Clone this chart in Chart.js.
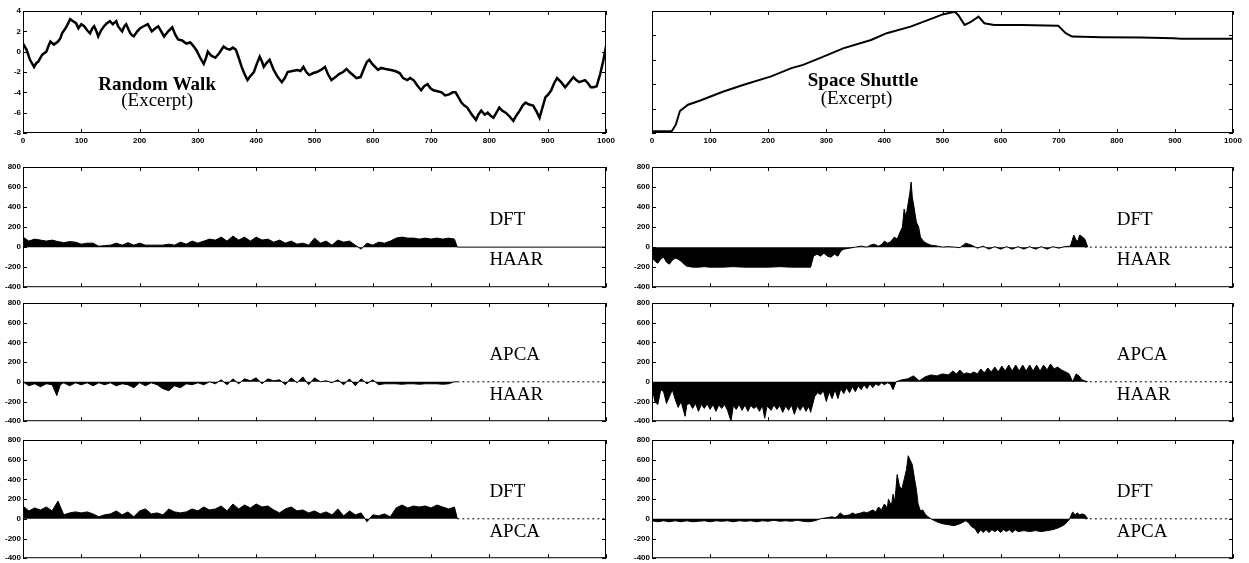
<!DOCTYPE html>
<html>
<head>
<meta charset="utf-8">
<script src="https://cdn.jsdelivr.net/npm/chart.js@4.4.0/dist/chart.umd.min.js"></script>
<style>
  html, body { margin: 0; padding: 0; background: #fff; overflow: hidden; }
  body { width: 1249px; height: 563px; position: relative; }
  canvas { position: absolute; }
</style>
</head>
<body>
<canvas id="rwTop" width="618" height="145" style="left:0px;top:0px"></canvas>
<canvas id="ssTop" width="616" height="145" style="left:629px;top:0px"></canvas>
<canvas id="rwDftHaar" width="618" height="137" style="left:0px;top:157px"></canvas>
<canvas id="ssDftHaar" width="616" height="137" style="left:629px;top:157px"></canvas>
<canvas id="rwApcaHaar" width="618" height="135" style="left:0px;top:293px"></canvas>
<canvas id="ssApcaHaar" width="616" height="135" style="left:629px;top:293px"></canvas>
<canvas id="rwDftApca" width="618" height="135" style="left:0px;top:430px"></canvas>
<canvas id="ssDftApca" width="616" height="135" style="left:629px;top:430px"></canvas>
<script>
// ---- data: [x, value] pairs ----

// top row, raw series
const randomWalk = [[0,0.8],[6,0.2],[12,-0.8],[19,-1.5],[23,-1.1],[26,-1.0],[33,-0.3],[40,0.0],[44,0.6],[47,1.0],[53,0.7],[60,1.0],[64,1.3],[67,1.8],[74,2.4],[81,3.2],[86,3.0],[91,2.8],[95,2.3],
  [100,2.7],[105,2.5],[110,2.1],[115,1.8],[119,2.3],[122,2.5],[126,2.0],[129,1.5],[134,2.1],[139,2.5],[144,2.8],[149,3.0],[154,2.7],[160,3.0],[163,2.5],[167,2.2],[170,2.0],[174,2.5],[177,2.7],
  [184,1.8],[187,1.6],[190,1.5],[196,2.0],[201,2.3],[207,2.5],[214,2.7],[218,2.3],[221,2.0],[227,2.3],[232,2.5],[237,2.0],[242,1.5],[249,2.0],[256,2.4],[261,1.7],[266,1.2],[273,1.1],[280,0.8],
  [287,0.9],[293,0.5],[298,0.1],[303,-0.5],[307,-0.9],[310,-1.2],[314,-0.6],[317,0.0],[323,-0.4],[330,-0.6],[337,-0.1],[344,0.5],[349,0.3],[355,0.2],[360,0.4],[365,0.2],[370,-0.6],[375,-1.5],[380,-2.2],[385,-2.8],
  [390,-2.4],[396,-2.0],[401,-1.2],[406,-0.5],[410,-1.0],[413,-1.5],[418,-1.1],[423,-0.8],[430,-1.8],[437,-2.5],[444,-3.0],[449,-2.6],[454,-2.0],[462,-1.9],[471,-1.8],[476,-1.9],[481,-1.5],[486,-2.0],[491,-2.3],
  [498,-2.1],[504,-2.0],[511,-1.8],[518,-1.5],[523,-2.2],[529,-2.8],[536,-2.5],[542,-2.2],[549,-2.0],[555,-1.7],[560,-2.0],[566,-2.3],[572,-2.6],[579,-2.5],[586,-1.5],[590,-1.0],[594,-0.8],[599,-1.2],[604,-1.5],[609,-1.8],[614,-1.6],
  [622,-1.7],[631,-1.8],[638,-1.9],[646,-2.1],[652,-2.6],[659,-2.8],[664,-2.6],[670,-2.8],[676,-3.3],[683,-3.8],[688,-3.4],[694,-3.2],[699,-3.6],[704,-3.8],[711,-3.9],[718,-4.0],[724,-4.3],[731,-4.2],[737,-4.0],[742,-4.0],
  [747,-4.5],[752,-5.0],[757,-5.3],[762,-5.5],[770,-6.2],[777,-6.7],[781,-6.2],[786,-5.8],[792,-6.2],[797,-6.0],[802,-6.3],[807,-6.5],[812,-6.0],[817,-5.5],[822,-5.8],[828,-6.0],[835,-6.4],[841,-6.8],[846,-6.3],[852,-5.8],
  [857,-5.3],[862,-5.0],[868,-5.2],[875,-5.3],[881,-5.9],[886,-6.5],[891,-5.5],[896,-4.5],[901,-4.2],[906,-3.8],[911,-3.1],[916,-2.6],[923,-3.0],[930,-3.5],[937,-3.0],[944,-2.5],[949,-2.8],[954,-3.0],[959,-2.9],[964,-2.8],
  [969,-3.1],[974,-3.5],[979,-3.5],[984,-3.4],[990,-2.2],[995,-1.0],[1000,0.5]];

const spaceShuttle = [[0,0.07],[34,0.07],[41,0.34],[48,0.9],[62,1.16],[82,1.32],[123,1.7],[158,1.98],[205,2.32],[240,2.66],
  [260,2.79],[295,3.13],[329,3.47],[377,3.81],[404,4.09],[445,4.36],[486,4.73],[500,4.86],[521,4.97],[527,4.84],
  [538,4.43],[548,4.54],[562,4.77],[572,4.5],[589,4.43],[637,4.43],[699,4.4],[712,4.09],[723,3.95],[774,3.92],
  [842,3.91],[897,3.88],[911,3.86],[1000,3.86]];

// random walk error differences
const rwDftHaar = [[0,100],[10,60],[20,80],[30,70],[40,60],[50,70],[60,55],[70,45],[80,55],[90,50],
  [100,30],[110,40],[120,40],[130,10],[140,15],[150,20],[160,40],[170,20],[180,45],[190,20],
  [200,40],[210,20],[220,20],[230,20],[240,20],[250,30],[260,20],[270,50],[280,30],[290,60],
  [300,40],[310,60],[320,80],[330,70],[340,100],[350,60],[360,110],[370,70],[380,100],[390,60],
  [400,100],[410,70],[420,80],[430,50],[440,70],[450,40],[460,60],[470,30],[480,40],[490,20],
  [500,90],[510,40],[520,60],[530,20],[540,70],[550,50],[560,60],[570,20],[580,-20],[590,40],
  [600,20],[610,50],[620,40],[630,60],[640,90],[650,100],[660,90],[670,90],[680,80],[690,90],
  [700,80],[710,90],[720,80],[730,90],[740,80],[745,0]];

const rwApcaHaar = [[0,0],[10,-40],[20,-20],[30,-50],[40,-20],[50,-30],[58,-140],[64,-30],[70,-10],[80,-40],[90,-10],
  [100,-30],[110,-10],[120,-40],[130,-10],[140,-30],[150,-10],[160,-40],[170,-20],[180,-30],[190,-60],
  [200,-10],[210,-40],[220,-10],[230,-30],[240,-70],[250,-90],[260,-40],[270,-60],[280,-20],[290,-30],
  [300,-10],[310,-30],[320,0],[330,-20],[340,20],[350,-30],[360,30],[370,-20],[380,30],[390,10],
  [400,40],[410,-20],[420,30],[430,10],[440,20],[450,-30],[460,40],[470,-10],[480,50],[490,-30],
  [500,40],[510,0],[520,10],[530,-10],[540,20],[550,-30],[560,30],[570,-40],[580,30],[590,-20],
  [600,20],[610,-30],[620,-20],[630,-20],[640,-20],[650,-25],[660,-20],[670,-20],[680,-25],[690,-20],
  [700,-20],[710,-20],[720,-25],[730,-20],[740,0],[745,0]];

const rwDftApca = [[0,130],[10,80],[20,110],[30,90],[40,120],[50,80],[60,180],[70,40],[80,60],[90,70],
  [100,60],[110,70],[120,50],[130,20],[140,40],[150,50],[160,80],[170,40],[180,70],[190,20],
  [200,80],[210,100],[220,50],[230,60],[240,40],[250,100],[260,70],[270,60],[280,70],[290,100],
  [300,80],[310,120],[320,90],[330,100],[340,130],[350,80],[360,150],[370,100],[380,140],[390,110],
  [400,150],[410,120],[420,130],[430,90],[440,60],[450,100],[460,120],[470,80],[480,90],[490,60],
  [500,80],[510,50],[520,70],[530,40],[540,100],[550,30],[560,80],[570,40],[580,60],[590,-30],
  [600,40],[610,30],[620,50],[630,20],[640,110],[650,140],[660,110],[670,130],[680,120],[690,130],
  [700,110],[710,140],[720,120],[730,100],[740,120],[745,0]];

// space shuttle error differences
const ssDftHaar = [[0,-100],[5,-140],[10,-160],[15,-120],[20,-100],[25,-150],[30,-170],[35,-130],[40,-110],[45,-120],
  [50,-140],[55,-170],[60,-190],[70,-200],[80,-200],[90,-195],[100,-200],[120,-200],[140,-195],[160,-200],
  [180,-200],[200,-200],[220,-195],[240,-200],[260,-200],[273,-200],[278,-90],[284,-70],[290,-90],[296,-60],
  [302,-90],[308,-100],[314,-70],[320,-90],[325,-40],[330,-20],[340,-10],[350,0],[360,10],[370,0],
  [376,20],[382,30],[390,10],[396,30],[400,60],[405,40],[410,50],[417,100],[422,80],[427,150],
  [431,200],[434,380],[437,300],[441,440],[444,550],[446,650],[448,500],[451,400],[455,250],[459,200],
  [462,100],[467,60],[472,40],[480,20],[492,10],[500,0],[510,5],[520,0],[530,-5],
  [540,40],[550,20],[560,-10],[570,10],[580,-20],[590,5],[600,-20],[610,5],[620,-20],[630,5],
  [640,-20],[650,5],[660,-20],[670,5],[680,-20],[690,5],[700,-10],[710,5],[720,10],[726,120],
  [730,70],[733,60],[736,120],[739,110],[745,80],[750,0]];

const ssApcaHaar = [[0,-50],[5,-200],[10,-230],[15,-80],[20,-100],[25,-220],[30,-150],[35,-80],[40,-180],[45,-260],
  [50,-200],[57,-350],[60,-230],[65,-220],[70,-270],[75,-220],[80,-300],[85,-230],[90,-270],[95,-225],
  [100,-280],[105,-230],[110,-300],[115,-235],[120,-270],[125,-230],[130,-290],[136,-400],[140,-240],[145,-280],
  [150,-230],[155,-290],[160,-235],[165,-300],[170,-240],[175,-270],[180,-250],[185,-300],[190,-240],[194,-370],
  [198,-245],[205,-290],[210,-235],[215,-280],[220,-240],[225,-310],[230,-245],[235,-290],[240,-235],[245,-330],
  [250,-245],[255,-290],[260,-240],[265,-300],[270,-250],[273,-310],[280,-150],[285,-110],[290,-130],[295,-90],
  [300,-200],[305,-100],[310,-170],[315,-80],[320,-170],[325,-70],[330,-120],[335,-60],[340,-110],[345,-50],
  [350,-100],[355,-40],[360,-80],[365,-30],[370,-70],[375,-20],[380,-60],[385,-20],[390,-40],[395,-10],
  [400,-30],[405,-10],[410,-20],[415,-80],[420,0],[430,20],[440,30],[450,60],[460,10],[470,50],
  [480,70],[490,60],[500,80],[510,70],[518,110],[524,80],[530,120],[536,80],[542,90],[548,80],
  [554,100],[560,80],[566,130],[572,90],[578,140],[584,100],[590,150],[596,100],[602,160],[608,110],
  [614,170],[620,110],[626,170],[632,110],[638,170],[644,110],[650,170],[656,110],[662,170],[668,110],
  [674,170],[680,120],[686,180],[692,130],[698,150],[705,120],[712,100],[718,80],[724,0],[730,80],
  [735,60],[740,20],[745,10],[750,0]];

const ssDftApca = [[0,-20],[10,-30],[20,-20],[30,-30],[40,-20],[50,-30],[60,-20],[70,-30],[80,-25],[90,-20],
  [100,-30],[110,-20],[120,-25],[130,-20],[140,-30],[150,-20],[160,-25],[170,-20],[180,-30],[190,-20],
  [200,-25],[210,-15],[220,-25],[230,-20],[240,-25],[250,-15],[260,-25],[270,-30],[280,-20],[285,-10],
  [290,0],[300,10],[310,20],[315,10],[320,30],[324,60],[330,30],[340,40],[345,60],[350,45],
  [360,60],[365,70],[370,60],[380,90],[385,70],[390,120],[395,90],[400,150],[405,110],[407,200],
  [412,130],[415,250],[418,170],[422,450],[426,330],[430,300],[434,400],[438,500],[441,640],[444,600],
  [448,550],[452,400],[455,300],[458,150],[462,80],[466,90],[470,50],[475,20],[480,0],[490,-30],
  [500,-50],[510,-60],[520,-70],[530,-50],[540,-20],[545,-40],[550,-80],[556,-100],[561,-150],[566,-110],
  [570,-140],[575,-110],[580,-140],[585,-110],[590,-130],[595,-110],[600,-140],[605,-110],[610,-130],[615,-110],
  [620,-140],[625,-110],[630,-130],[640,-120],[650,-130],[660,-120],[670,-130],[680,-120],[690,-110],[700,-90],
  [710,-60],[718,-10],[724,70],[728,40],[732,60],[736,40],[740,50],[745,40],[750,0]];

// zero reference beyond the end of the difference series
const zeroTail = [[745,0],[1000,0]];

// ticks
const xTicks = { min: 0, max: 1000, step: 100 };
const rwTicks = { min: -8, max: 4, step: 2 };
const ssTicks = { min: 0, max: 5, step: 1 };
const diffTicks = { min: -400, max: 800, step: 200 };

const serif = '"Liberation Serif", "Times New Roman", serif';

Chart.defaults.font.family = '"Liberation Sans", Arial, sans-serif';
Chart.defaults.font.size = 8;
Chart.defaults.font.weight = 'bold';
Chart.defaults.color = '#000';

// box frame with inward ticks on all four sides, plus text notes
const frameTicks = {
    id: 'frameTicks',
    afterDatasetsDraw(chart, args, opts) {
        const { ctx, chartArea: a, scales: { x, y } } = chart;
        ctx.save();
        ctx.strokeStyle = '#000';
        ctx.lineWidth = 1;
        ctx.strokeRect(a.left + 0.5, a.top + 0.5, a.width - 1, a.height - 1);
        ctx.beginPath();
        x.ticks.forEach(t => {
            const px = Math.round(x.getPixelForValue(t.value)) + 0.5;
            ctx.moveTo(px, a.bottom); ctx.lineTo(px, a.bottom - 4);
            ctx.moveTo(px, a.top); ctx.lineTo(px, a.top + 4);
        });
        y.ticks.forEach(t => {
            const py = Math.round(y.getPixelForValue(t.value)) + 0.5;
            ctx.moveTo(a.left, py); ctx.lineTo(a.left + 4, py);
            ctx.moveTo(a.right, py); ctx.lineTo(a.right - 4, py);
        });
        ctx.stroke();
        (opts.notes || []).forEach(n => {
            ctx.font = n.font;
            ctx.fillStyle = '#000';
            ctx.textAlign = n.align || 'left';
            ctx.textBaseline = 'alphabetic';
            ctx.fillText(n.text, x.getPixelForValue(n.x), y.getPixelForValue(n.y));
        });
        ctx.restore();
    }
};

const pts = arr => arr.map(([x, y]) => ({ x, y }));
const plain = v => String(v);   // no thousands separator, as in the figure

function makeChart(id, datasets, yt, opt) {
    new Chart(document.getElementById(id), {
        type: 'line',
        data: { datasets: datasets },
        options: {
            responsive: false,
            animation: false,
            events: [],
            layout: { padding: { top: opt.padTop, right: 12, bottom: opt.padBottom, left: 0 } },
            elements: { point: { radius: 0 }, line: { tension: 0 } },
            plugins: {
                legend: { display: false },
                tooltip: { enabled: false },
                frameTicks: { notes: opt.notes || [] }
            },
            scales: {
                x: {
                    type: 'linear', min: xTicks.min, max: xTicks.max,
                    grid: { display: false, drawTicks: false }, border: { display: false },
                    ticks: { stepSize: xTicks.step, display: opt.xLabels, padding: 3, maxRotation: 0, callback: plain },
                    afterFit(s) { s.height = opt.xLabels ? 12 : 0; }
                },
                y: {
                    min: yt.min, max: yt.max,
                    grid: { display: false, drawTicks: false }, border: { display: false },
                    ticks: { stepSize: yt.step, display: opt.yLabels !== false, padding: 2, callback: plain },
                    afterFit(s) { s.width = 23; }
                }
            }
        },
        plugins: [frameTicks]
    });
}

function diffChart(id, series, upper, lower, dashed) {
    makeChart(id, [
        { data: pts(series), borderColor: '#000', borderWidth: 1, backgroundColor: '#000', fill: 'origin' },
        { data: pts(zeroTail), borderColor: '#000', borderWidth: 1, borderDash: dashed ? [2, 3] : [], fill: false }
    ], diffTicks, {
        padTop: 10, padBottom: 4, xLabels: false,
        notes: [
            { text: upper, x: 800, y: 220, font: '19px ' + serif },
            { text: lower, x: 800, y: -180, font: '19px ' + serif }
        ]
    });
}

// --- top row: the raw series ---
makeChart('rwTop', [
    { data: pts(randomWalk), borderColor: '#000', borderWidth: 2.5, fill: false }
], rwTicks, {
    padTop: 11, padBottom: 0, xLabels: true,
    notes: [
        { text: 'Random Walk', x: 230, y: -3.77, align: 'center', font: 'bold 19px ' + serif },
        { text: '(Excerpt)', x: 230, y: -5.3, align: 'center', font: '19px ' + serif }
    ]
});

makeChart('ssTop', [
    { data: pts(spaceShuttle), borderColor: '#000', borderWidth: 2, fill: false }
], ssTicks, {
    padTop: 11, padBottom: 0, xLabels: true, yLabels: false,
    notes: [
        { text: 'Space Shuttle', x: 363, y: 1.92, align: 'center', font: 'bold 19px ' + serif },
        { text: '(Excerpt)', x: 352, y: 1.17, align: 'center', font: '19px ' + serif }
    ]
});

// --- difference panels ---
diffChart('rwDftHaar', rwDftHaar, 'DFT', 'HAAR', false);
diffChart('ssDftHaar', ssDftHaar, 'DFT', 'HAAR', true);
diffChart('rwApcaHaar', rwApcaHaar, 'APCA', 'HAAR', true);
diffChart('ssApcaHaar', ssApcaHaar, 'APCA', 'HAAR', true);
diffChart('rwDftApca', rwDftApca, 'DFT', 'APCA', true);
diffChart('ssDftApca', ssDftApca, 'DFT', 'APCA', true);
</script>
</body>
</html>
